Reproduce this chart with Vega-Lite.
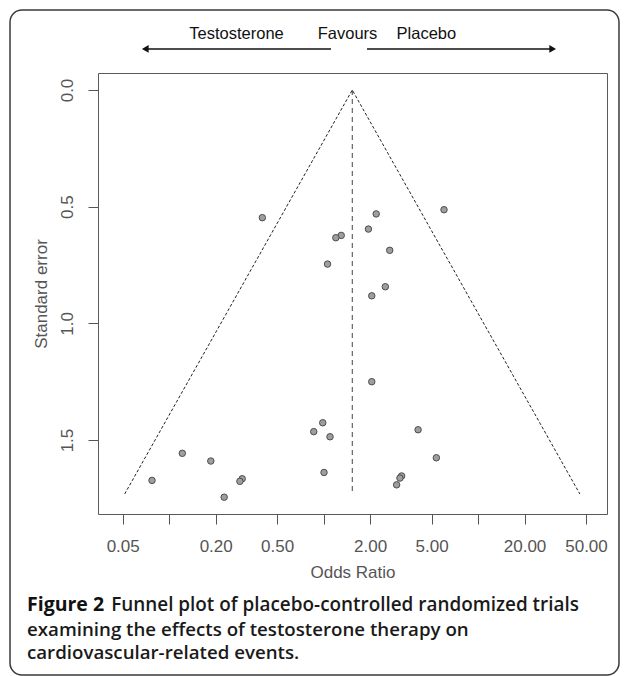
{
  "$schema": "https://vega.github.io/schema/vega-lite/v6.json",
  "width": 509,
  "height": 441,
  "autosize": {"type": "none"},
  "padding": {"left": 98, "top": 73, "right": 20, "bottom": 162},
  "background": "white",
  "data": {"values": [{}]},
  "config": {
    "view": {"stroke": "#5a5a5a", "strokeWidth": 1},
    "axis": {
      "domain": false,
      "grid": false,
      "tickColor": "#555555",
      "tickSize": 10,
      "labelFont": "Liberation Sans",
      "labelFontSize": 17,
      "labelColor": "#555555",
      "titleFont": "Liberation Sans",
      "titleFontSize": 17,
      "titleFontWeight": "normal",
      "titleColor": "#555555"
    }
  },
  "datasets": {
    "trials": [
      {"or": 0.401, "se": 0.547},
      {"or": 6.02, "se": 0.513},
      {"or": 2.19, "se": 0.531},
      {"or": 1.95, "se": 0.596},
      {"or": 1.30, "se": 0.623},
      {"or": 1.20, "se": 0.633},
      {"or": 2.68, "se": 0.687},
      {"or": 1.06, "se": 0.746},
      {"or": 2.51, "se": 0.843},
      {"or": 2.05, "se": 0.882},
      {"or": 2.05, "se": 1.250},
      {"or": 0.987, "se": 1.426},
      {"or": 0.863, "se": 1.464},
      {"or": 1.10, "se": 1.486},
      {"or": 4.09, "se": 1.456},
      {"or": 5.37, "se": 1.576},
      {"or": 1.006, "se": 1.639},
      {"or": 3.20, "se": 1.654},
      {"or": 3.12, "se": 1.663},
      {"or": 2.97, "se": 1.692},
      {"or": 0.1216, "se": 1.557},
      {"or": 0.186, "se": 1.590},
      {"or": 0.0774, "se": 1.673},
      {"or": 0.297, "se": 1.666},
      {"or": 0.287, "se": 1.677},
      {"or": 0.227, "se": 1.745}
    ],
    "funnel": [
      {"or": 0.05149, "se": 1.7313, "k": 1},
      {"or": 1.533, "se": 0, "k": 2},
      {"or": 45.63, "se": 1.7313, "k": 3}
    ]
  },
  "layer": [
    {
      "data": {"name": "trials"},
      "mark": {"type": "point", "filled": true, "fill": "#9e9e9e", "stroke": "#4d4d4d", "strokeWidth": 1, "size": 42, "opacity": 1},
      "encoding": {
        "x": {
          "field": "or", "type": "quantitative", "title": "Odds Ratio",
          "scale": {"type": "log", "domain": [0.03459, 68.4], "nice": false, "zero": false},
          "axis": {
            "values": [0.05, 0.1, 0.2, 0.5, 1, 2, 5, 10, 20, 50],
            "labelExpr": "(datum.value == 0.1 || datum.value == 1 || datum.value == 10) ? '' : format(datum.value, '.2f')",
            "labelPadding": 14,
            "titlePadding": 10,
            "labelFlush": false,
            "labelOverlap": false
          }
        },
        "y": {
          "field": "se", "type": "quantitative", "title": "Standard error",
          "scale": {"domain": [-0.0729, 1.817], "reverse": true, "nice": false, "zero": false},
          "axis": {
            "values": [0, 0.5, 1, 1.5],
            "format": ".1f",
            "labelAngle": -90,
            "labelAlign": "center",
            "labelBaseline": "bottom",
            "labelPadding": 12,
            "titlePadding": 8,
            "labelFlush": false,
            "labelOverlap": false
          }
        }
      }
    },
    {
      "mark": {"type": "rect", "filled": false, "stroke": "#3a3a3a", "strokeWidth": 1.5, "cornerRadius": 12},
      "encoding": {
        "x": {"datum": 0.009315, "type": "quantitative", "title": "Odds Ratio", "scale": {"type": "log", "domain": [0.03459, 68.4], "nice": false, "zero": false}},
        "x2": {"datum": 81.78},
        "y": {"datum": -0.3429, "type": "quantitative", "title": "Standard error", "scale": {"domain": [-0.0729, 1.817], "reverse": true, "nice": false, "zero": false}},
        "y2": {"datum": 2.5069}
      }
    },
    {
      "data": {"name": "funnel"},
      "mark": {"type": "line", "strokeDash": [3, 2], "strokeWidth": 1, "color": "#222222"},
      "encoding": {
        "x": {"field": "or", "type": "quantitative", "title": "Odds Ratio", "scale": {"type": "log", "domain": [0.03459, 68.4], "nice": false, "zero": false}},
        "y": {"field": "se", "type": "quantitative", "title": "Standard error", "scale": {"domain": [-0.0729, 1.817], "reverse": true, "nice": false, "zero": false}},
        "order": {"field": "k", "type": "quantitative"}
      }
    },
    {
      "mark": {"type": "rule", "strokeDash": [5, 4], "strokeWidth": 1, "color": "#444444"},
      "encoding": {
        "x": {"datum": 1.533, "type": "quantitative", "title": "Odds Ratio", "scale": {"type": "log", "domain": [0.03459, 68.4], "nice": false, "zero": false}},
        "y": {"datum": 0, "type": "quantitative", "title": "Standard error", "scale": {"domain": [-0.0729, 1.817], "reverse": true, "nice": false, "zero": false}},
        "y2": {"datum": 1.7313}
      }
    },
    {
      "mark": {"type": "rule", "strokeWidth": 1.5, "color": "#111111"},
      "encoding": {
        "x": {"datum": 0.07, "type": "quantitative", "title": "Odds Ratio", "scale": {"type": "log", "domain": [0.03459, 68.4], "nice": false, "zero": false}},
        "x2": {"datum": 1.116},
        "y": {"datum": -0.1758, "type": "quantitative", "title": "Standard error", "scale": {"domain": [-0.0729, 1.817], "reverse": true, "nice": false, "zero": false}}
      }
    },
    {
      "mark": {"type": "rule", "strokeWidth": 1.5, "color": "#111111"},
      "encoding": {
        "x": {"datum": 1.91, "type": "quantitative", "title": "Odds Ratio", "scale": {"type": "log", "domain": [0.03459, 68.4], "nice": false, "zero": false}},
        "x2": {"datum": 30.43},
        "y": {"datum": -0.1758, "type": "quantitative", "title": "Standard error", "scale": {"domain": [-0.0729, 1.817], "reverse": true, "nice": false, "zero": false}}
      }
    },
    {
      "mark": {"type": "point", "shape": "triangle-left", "filled": true, "color": "#111111", "size": 60, "opacity": 1},
      "encoding": {
        "x": {"datum": 0.07, "type": "quantitative", "title": "Odds Ratio", "scale": {"type": "log", "domain": [0.03459, 68.4], "nice": false, "zero": false}},
        "y": {"datum": -0.1758, "type": "quantitative", "title": "Standard error", "scale": {"domain": [-0.0729, 1.817], "reverse": true, "nice": false, "zero": false}}
      }
    },
    {
      "mark": {"type": "point", "shape": "triangle-right", "filled": true, "color": "#111111", "size": 60, "opacity": 1},
      "encoding": {
        "x": {"datum": 30.43, "type": "quantitative", "title": "Odds Ratio", "scale": {"type": "log", "domain": [0.03459, 68.4], "nice": false, "zero": false}},
        "y": {"datum": -0.1758, "type": "quantitative", "title": "Standard error", "scale": {"domain": [-0.0729, 1.817], "reverse": true, "nice": false, "zero": false}}
      }
    },
    {
      "mark": {"type": "text", "text": "Testosterone", "font": "Liberation Sans", "fontSize": 16.5, "color": "#111111", "align": "center", "baseline": "middle"},
      "encoding": {
        "x": {"datum": 0.2729, "type": "quantitative", "title": "Odds Ratio", "scale": {"type": "log", "domain": [0.03459, 68.4], "nice": false, "zero": false}},
        "y": {"datum": -0.24, "type": "quantitative", "title": "Standard error", "scale": {"domain": [-0.0729, 1.817], "reverse": true, "nice": false, "zero": false}}
      }
    },
    {
      "mark": {"type": "text", "text": "Favours", "font": "Liberation Sans", "fontSize": 16.5, "color": "#111111", "align": "center", "baseline": "middle"},
      "encoding": {
        "x": {"datum": 1.4277, "type": "quantitative", "title": "Odds Ratio", "scale": {"type": "log", "domain": [0.03459, 68.4], "nice": false, "zero": false}},
        "y": {"datum": -0.24, "type": "quantitative", "title": "Standard error", "scale": {"domain": [-0.0729, 1.817], "reverse": true, "nice": false, "zero": false}}
      }
    },
    {
      "mark": {"type": "text", "text": "Placebo", "font": "Liberation Sans", "fontSize": 16.5, "color": "#111111", "align": "center", "baseline": "middle"},
      "encoding": {
        "x": {"datum": 4.629, "type": "quantitative", "title": "Odds Ratio", "scale": {"type": "log", "domain": [0.03459, 68.4], "nice": false, "zero": false}},
        "y": {"datum": -0.24, "type": "quantitative", "title": "Standard error", "scale": {"domain": [-0.0729, 1.817], "reverse": true, "nice": false, "zero": false}}
      }
    },
    {
      "mark": {"type": "text", "text": "Figure 2", "font": "Open Sans", "fontSize": 19.5, "fontWeight": "bold", "color": "#111111", "align": "left", "baseline": "middle"},
      "encoding": {
        "x": {"datum": 0.012, "type": "quantitative", "title": "Odds Ratio", "scale": {"type": "log", "domain": [0.03459, 68.4], "nice": false, "zero": false}},
        "y": {"datum": 2.2069, "type": "quantitative", "title": "Standard error", "scale": {"domain": [-0.0729, 1.817], "reverse": true, "nice": false, "zero": false}}
      }
    },
    {
      "mark": {"type": "text", "text": "Funnel plot of placebo-controlled randomized trials", "font": "Open Sans", "fontSize": 18.9, "fontWeight": 600, "color": "#1a1a1a", "align": "left", "baseline": "middle"},
      "encoding": {
        "x": {"datum": 0.0421, "type": "quantitative", "title": "Odds Ratio", "scale": {"type": "log", "domain": [0.03459, 68.4], "nice": false, "zero": false}},
        "y": {"datum": 2.2069, "type": "quantitative", "title": "Standard error", "scale": {"domain": [-0.0729, 1.817], "reverse": true, "nice": false, "zero": false}}
      }
    },
    {
      "mark": {"type": "text", "text": "examining the effects of testosterone therapy on", "font": "Open Sans", "fontSize": 18.7, "fontWeight": 600, "color": "#1a1a1a", "align": "left", "baseline": "middle"},
      "encoding": {
        "x": {"datum": 0.012, "type": "quantitative", "title": "Odds Ratio", "scale": {"type": "log", "domain": [0.03459, 68.4], "nice": false, "zero": false}},
        "y": {"datum": 2.3141, "type": "quantitative", "title": "Standard error", "scale": {"domain": [-0.0729, 1.817], "reverse": true, "nice": false, "zero": false}}
      }
    },
    {
      "mark": {"type": "text", "text": "cardiovascular-related events.", "font": "Open Sans", "fontSize": 18.7, "fontWeight": 600, "color": "#1a1a1a", "align": "left", "baseline": "middle"},
      "encoding": {
        "x": {"datum": 0.012, "type": "quantitative", "title": "Odds Ratio", "scale": {"type": "log", "domain": [0.03459, 68.4], "nice": false, "zero": false}},
        "y": {"datum": 2.4126, "type": "quantitative", "title": "Standard error", "scale": {"domain": [-0.0729, 1.817], "reverse": true, "nice": false, "zero": false}}
      }
    }
  ]
}
